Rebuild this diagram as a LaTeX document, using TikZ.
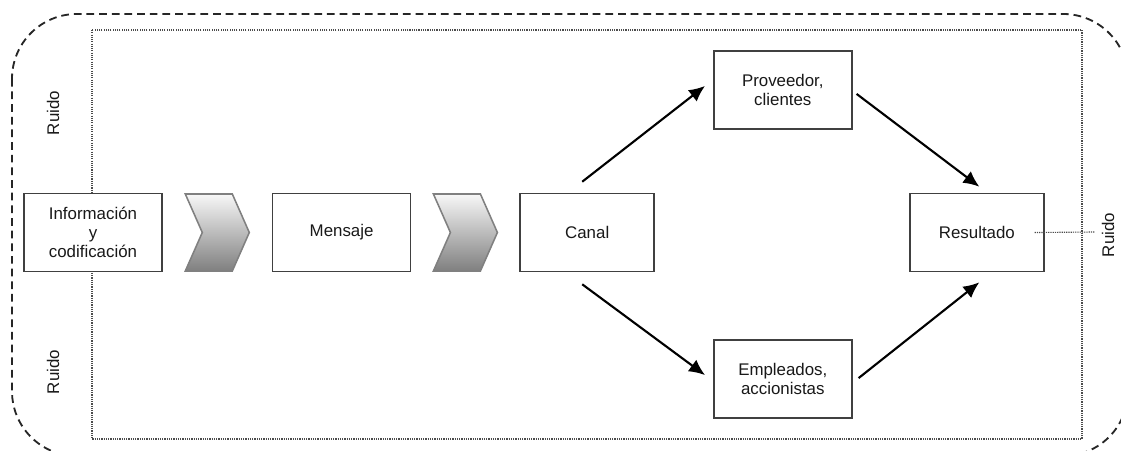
\documentclass[tikz,border=0pt]{standalone}
\usepackage{fontspec}
\setmainfont{Liberation Sans}
\usetikzlibrary{positioning,calc,arrows.meta}

\begin{document}
\begin{tikzpicture}[%
  x=0.025cm,
  y=-0.025cm,
  >={Latex[length=0.4cm,width=0.36cm]},
  font=\fontsize{12}{13.5}\selectfont,
  box/.style={
    draw=black!75,
    fill=white,
    line width=1.1pt,
    text=black!90,
    align=center,
    minimum width=3.45cm,
    minimum height=1.95cm,
    inner sep=2pt},
  chev/.style={
    draw=black!50,
    line width=1.1pt,
    top color=black!3,
    bottom color=black!50},
  pil/.style={
    ->,
    line width=1.5pt},
  ruido/.style={
    rotate=90,
    text=black!90},
  punteado/.style={
    black!70,
    line width=0.8pt,
    dash pattern=on 0.8pt off 0.8pt}
  ]
  \useasboundingbox (0,0) rectangle (1121,450);
  \clip (0,0) rectangle (1121,450);
  %% Frames
  \draw[black!85, line width=1.3pt, dash pattern=on 5.5pt off 3.5pt,
    rounded corners=1.62cm] (12,14) rectangle (1128,456);
  \draw[punteado] (92,30) rectangle (1082,439);
  %% Nodes
  \node[box] (info) at (93,232.5) {Información\\y\\codificación};
  \node[box, right=2.725cm of info] (mensaje) {Mensaje};
  \node[box, right=2.7cm of mensaje, minimum width=3.35cm] (canal) {Canal};
  \node[box, above right=1.575cm and 1.45cm of canal] (prov) {Proveedor,\\clientes};
  \node[box, below right=1.675cm and 1.45cm of canal] (empl) {Empleados,\\accionistas};
  \node[box, right=6.35cm of canal, minimum width=3.35cm] (res) {Resultado};
  \node[ruido] (ruidoA) at (53,113) {Ruido};
  \node[ruido] (ruidoB) at (53,372) {Ruido};
  \node[ruido] (ruidoC) at (1108,235) {Ruido};
  \coordinate (pasoA) at ($(info.east)!0.5!(mensaje.west)$);
  \coordinate (pasoB) at ($(mensaje.east)!0.5!(canal.west)$);
  \coordinate (rfin) at (1095,232);
  %% Chevrons
  \draw[chev, shift={(pasoA)}] (-32,-38.5) -- (15,-38.5) -- (32,0) -- (15,38.5)
    -- (-32,38.5) -- (-15,0) -- cycle;
  \draw[chev, shift={(pasoB)}] (-32,-38.5) -- (15,-38.5) -- (32,0) -- (15,38.5)
    -- (-32,38.5) -- (-15,0) -- cycle;
  %% Edges
  \draw[pil] ([shift={(-5,-11)}]canal.north) -- ([shift={(-8,-4)}]prov.west);
  \draw[pil] ([shift={(4,4)}]prov.east) -- ([shift={(2.5,-6)}]res.north);
  \draw[pil] ([shift={(-5,12)}]canal.south) -- ([shift={(-8,-4)}]empl.west);
  \draw[pil] ([shift={(6,-1)}]empl.east) -- ([shift={(2.5,10)}]res.south);
  \draw[punteado] ([shift={(-10,0)}]res.east) -- (rfin);
\end{tikzpicture}
\end{document}
